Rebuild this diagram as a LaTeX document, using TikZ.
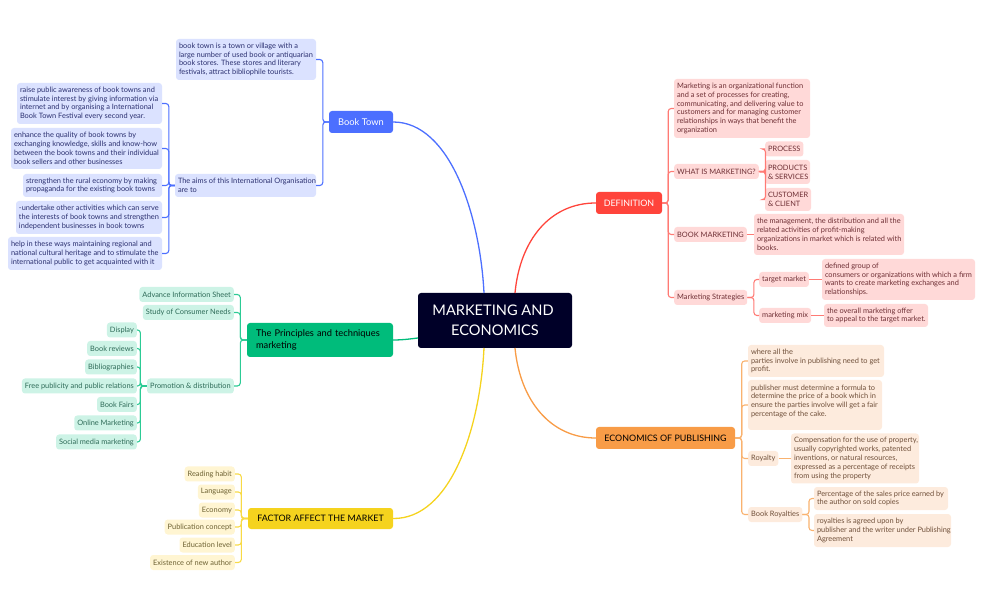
\documentclass[tikz,border=0pt]{standalone}
\usepackage{fontspec}
\setmainfont{Lato}
\definecolor{rootcol}{HTML}{000028}
\definecolor{bluecol}{HTML}{4C6FFF}
\definecolor{bluelight}{HTML}{DBE2FF}
\definecolor{bluetext}{HTML}{2B3070}
\definecolor{redcol}{HTML}{FF443B}
\definecolor{redline}{HTML}{FF7A74}
\definecolor{redlight}{HTML}{FFD9D8}
\definecolor{redtext}{HTML}{6F2F35}
\definecolor{greencol}{HTML}{00BC7B}
\definecolor{greenline}{HTML}{2CCB95}
\definecolor{greenlight}{HTML}{CDF3E6}
\definecolor{greentext}{HTML}{2E6B58}
\definecolor{yellowcol}{HTML}{F5D31E}
\definecolor{yellowline}{HTML}{F8DA45}
\definecolor{yellowlight}{HTML}{FFF5D2}
\definecolor{yellowtext}{HTML}{6E6233}
\definecolor{orangecol}{HTML}{F89C47}
\definecolor{orangeline}{HTML}{F9B26F}
\definecolor{orangelight}{HTML}{FDEBDD}
\definecolor{orangetext}{HTML}{70503A}
\tikzset{
	leaf/.style={rounded corners=3pt,inner xsep=3pt,inner ysep=0pt,minimum height=15pt,align=left,font=\fontsize{7.4}{8.8}\selectfont},
	boxsize/.style 2 args={text width=#1pt-6pt,minimum height=#2pt,align=none,execute at begin node={\rightskip=-20pt plus 1fil\parfillskip=0pt\hyphenpenalty=10000\relax}},
	topic/.style={rounded corners=3pt,inner xsep=4pt,inner ysep=0pt,align=left,font=\fontsize{9.3}{12}\selectfont},
	capstopic/.style={topic,font=\fontsize{8.9}{12}\selectfont},
	blueleaf/.style={leaf,fill=bluelight,text=bluetext},
	redleaf/.style={leaf,fill=redlight,text=redtext},
	greenleaf/.style={leaf,fill=greenlight,text=greentext},
	yellowleaf/.style={leaf,fill=yellowlight,text=yellowtext},
	orangeleaf/.style={leaf,fill=orangelight,text=orangetext},
	branch/.style={line width=1.1pt,rounded corners=3pt},
	mainbranch/.style={line width=1.3pt}
}
\begin{document}
\begin{tikzpicture}[x=1pt,y=-1pt]
	\useasboundingbox (0,0) rectangle (983,609);

	\node[rounded corners=3pt,fill=rootcol,text=white,align=center,minimum width=154pt,minimum height=55pt,inner sep=0pt,font=\fontsize{14.6}{20}\selectfont] (root) at (495, 320.5) {MARKETING AND\hspace*{4pt}\\ECONOMICS};
	\coordinate (rootne) at (515, 293);
	\coordinate (rootnw) at (484, 293);
	\coordinate (rootse) at (515, 348);
	\coordinate (rootsw) at (484, 348);
	\coordinate (rootw) at (418, 338);

	% book town
	\node[topic,fill=bluecol,text=white,minimum width=64pt,minimum height=22pt,align=center] (town) at (361, 122) {Book Town};
	\node[blueleaf,boxsize={140}{41}] (towndesc) at (246, 59.5) {book town is a town or village with a\\large number of used book or antiquarian\\book stores. These stores and literary\\festivals, attract bibliophile tourists.};
	\node[blueleaf,boxsize={141}{23}] (aims) at (245.5, 185.5) {The aims of this International Organisation\\are to};
	\node[blueleaf,boxsize={145}{41}] (raise) at (89.5, 103.5) {raise public awareness of book towns and\\stimulate interest by giving information via\\internet and by organising a International\\Book Town Festival every second year.};
	\node[blueleaf,boxsize={151}{41}] (enhance) at (86.5, 148.5) {enhance the quality of book towns by\\exchanging knowledge, skills and know-how\\between the book towns and their individual\\book sellers and other businesses};
	\node[blueleaf,boxsize={139}{23}] (rural) at (92.5, 185.5) {strengthen the rural economy by making\\propaganda for the existing book towns};
	\node[blueleaf,boxsize={146}{33}] (undertake) at (89, 217.5) {-undertake other activities which can serve\\the interests of book towns and strengthen\\independent businesses in book towns};
	\node[blueleaf,boxsize={154}{33}] (help) at (85, 253.5) {help in these ways maintaining regional and\\national cultural heritage and to stimulate the\\international public to get acquainted with it};

	% principles
	\node[topic,fill=greencol,text=black,minimum height=34pt,inner xsep=9pt,text width=128pt,align=left] (principles) at (320, 340) {The Principles and techniques\\marketing};
	\node[greenleaf,anchor=east] (advance) at (234, 294.5) {Advance Information Sheet};
	\node[greenleaf,anchor=east] (study) at (234, 312.5) {Study of Consumer Needs};
	\node[greenleaf,anchor=east] (promotion) at (234, 386) {Promotion \& distribution};
	\node[greenleaf,anchor=east] (display) at (137, 330) {Display};
	\node[greenleaf,anchor=east] (reviews) at (137, 348.5) {Book reviews};
	\node[greenleaf,anchor=east] (biblio) at (137, 367) {Bibliographies};
	\node[greenleaf,anchor=east] (publicity) at (137, 386) {Free publicity and public relations};
	\node[greenleaf,anchor=east] (fairs) at (137, 404.5) {Book Fairs};
	\node[greenleaf,anchor=east] (online) at (137, 423) {Online Marketing};
	\node[greenleaf,anchor=east] (social) at (137, 442) {Social media marketing};

	% factor
	\node[capstopic,fill=yellowcol,text=black,minimum width=145pt,minimum height=21pt,align=center] (factor) at (320.5, 518.5) {FACTOR AFFECT THE MARKET};
	\node[yellowleaf,anchor=east] (habit) at (235, 474) {Reading habit};
	\node[yellowleaf,anchor=east] (language) at (235, 492) {Language};
	\node[yellowleaf,anchor=east] (economy) at (235, 510) {Economy};
	\node[yellowleaf,anchor=east] (concept) at (235, 527) {Publication concept};
	\node[yellowleaf,anchor=east] (education) at (235, 545) {Education level};
	\node[yellowleaf,anchor=east] (author) at (235, 562.5) {Existence of new author};

	% definition
	\node[capstopic,fill=redcol,text=white,minimum width=66pt,minimum height=22pt,align=center] (definition) at (629, 203) {DEFINITION};
	\node[redleaf,boxsize={136}{59}] (meaning) at (742, 108.5) {Marketing is an organizational function\\and a set of processes for creating,\\communicating, and delivering value to\\customers and for managing customer\\relationships in ways that benefit the\\organization};
	\node[redleaf,anchor=west] (what) at (674, 171.5) {WHAT IS MARKETING?};
	\node[redleaf,anchor=west] (process) at (765, 149) {PROCESS};
	\node[redleaf,boxsize={45}{24}] (products) at (787.5, 172) {PRODUCTS\\\& SERVICES};
	\node[redleaf,boxsize={46}{23}] (customer) at (788, 199.5) {CUSTOMER\\\& CLIENT};
	\node[redleaf,anchor=west] (bookmarketing) at (674, 234.5) {BOOK MARKETING};
	\node[redleaf,boxsize={150}{41}] (management) at (829, 234.5) {the management, the distribution and all the\\related activities of profit-making\\organizations in market which is related with\\books.};
	\node[redleaf,anchor=west] (strategies) at (674, 297.5) {Marketing Strategies};
	\node[redleaf,anchor=west] (target) at (759, 279.5) {target market};
	\node[redleaf,anchor=west] (mix) at (759, 315.5) {marketing mix};
	\node[redleaf,boxsize={153}{41}] (group) at (898.5, 279.5) {defined group of\\consumers or organizations with which a firm\\wants to create marketing exchanges and\\relationships.};
	\node[redleaf,boxsize={104}{23}] (overall) at (876, 315.5) {the overall marketing offer\\to appeal to the target market.};

	% economics
	\node[capstopic,fill=orangecol,text=black,minimum width=139pt,minimum height=22pt,align=center] (economics) at (665.5, 438) {ECONOMICS OF PUBLISHING};
	\node[orangeleaf,boxsize={136}{32}] (profit) at (816, 361) {where all the\\parties involve in publishing need to get\\profit.};
	\node[orangeleaf,boxsize={134}{50}] (formula) at (815, 405) {publisher must determine a formula to\\determine the price of a book which in\\ensure the parties involve will get a fair\\percentage of the cake.\\\mbox{}};
	\node[orangeleaf,anchor=west] (royalty) at (748, 458.5) {Royalty};
	\node[orangeleaf,boxsize={128}{50}] (compensation) at (855, 458.5) {Compensation for the use of property,\\usually copyrighted works, patented\\inventions, or natural resources,\\expressed as a percentage of receipts\\from using the property};
	\node[orangeleaf,anchor=west] (bookroyalties) at (748, 514.5) {Book Royalties};
	\node[orangeleaf,boxsize={134}{23}] (percentage) at (881, 498.5) {Percentage of the sales price earned by\\the author on sold copies};
	\node[orangeleaf,boxsize={137}{33}] (agreement) at (882.5, 530.5) {royalties is agreed upon by\\publisher and the writer under Publishing\\Agreement};

	\draw[mainbranch,bluecol] (rootnw) .. controls (480, 215) and (450, 122) .. (town.east);
	\draw[mainbranch,redcol] (rootne) .. controls (520, 240) and (550, 203) .. (definition.west);
	\draw[mainbranch,orangecol] (rootse) .. controls (520, 400) and (550, 438) .. (economics.west);
	\draw[mainbranch,yellowcol] (rootsw) .. controls (480, 430) and (450, 519) .. (factor.east);
	\draw[mainbranch,greencol] (rootw) .. controls (410, 339) and (402, 340) .. (principles.east);

	\foreach \child in {towndesc,aims}
		\draw[branch,bluecol] (town.west) -- ++(-6,0) |- (\child.east);
	\foreach \child in {raise,enhance,rural,undertake,help}
		\draw[branch,bluecol] (aims.west) -- ++(-6,0) |- (\child.east);

	\foreach \child in {advance,study,promotion}
		\draw[branch,greenline] (principles.west) -- ++(-6.5,0) |- (\child.east);
	\foreach \child in {display,reviews,biblio,publicity,fairs,online,social}
		\draw[branch,greenline] (promotion.west) -- ++(-6.5,0) |- (\child.east);

	\foreach \child in {habit,language,economy,concept,education,author}
		\draw[branch,yellowline] (factor.west) -- ++(-6.5,0) |- (\child.east);

	\foreach \child in {meaning,what,bookmarketing,strategies}
		\draw[branch,redline] (definition.east) -- ++(6,0) |- (\child.west);
	\foreach \child in {process,products,customer}
		\draw[branch,redline] (what.east) -- ++(6.5,0) |- (\child.west);
	\draw[branch,redline] (bookmarketing) -- (management);
	\foreach \child in {target,mix}
		\draw[branch,redline] (strategies.east) -- ++(6.5,0) |- (\child.west);
	\draw[branch,redline] (target) -- (group);
	\draw[branch,redline] (mix) -- (overall);

	\foreach \child in {profit,formula,royalty,bookroyalties}
		\draw[branch,orangeline] (economics.east) -- ++(6.5,0) |- (\child.west);
	\draw[branch,orangeline] (royalty) -- (compensation);
	\foreach \child in {percentage,agreement}
		\draw[branch,orangeline] (bookroyalties.east) -- ++(6.5,0) |- (\child.west);
\end{tikzpicture}
\end{document}
